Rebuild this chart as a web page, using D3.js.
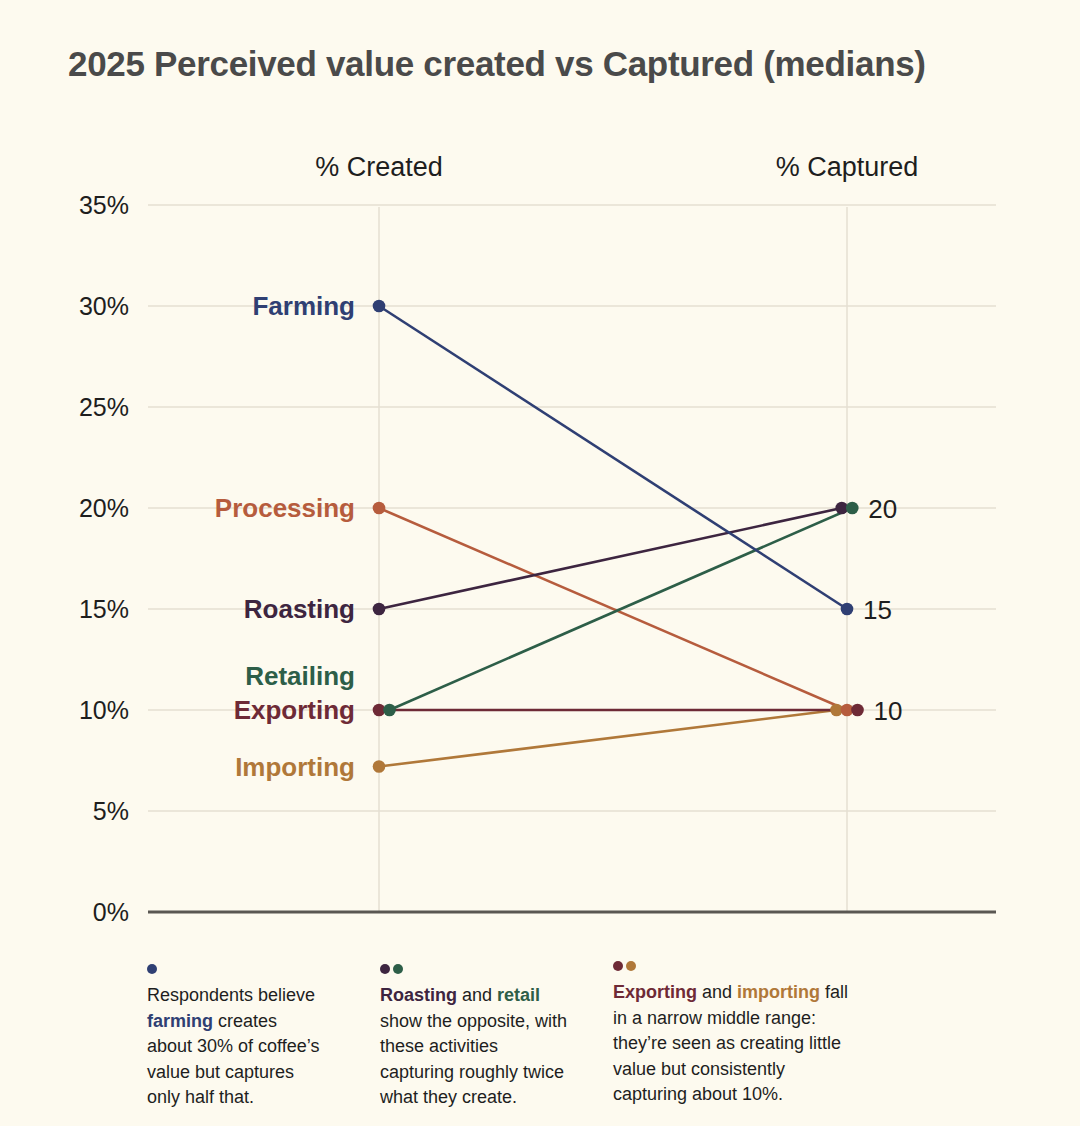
<!DOCTYPE html>
<html><head><meta charset="utf-8">
<script src="https://cdn.jsdelivr.net/npm/d3@7"></script>
<style>
html,body{margin:0;padding:0;background:#fdfaef;}
svg{display:block;font-family:"Liberation Sans",Arial,sans-serif;}
</style></head>
<body>
<svg id="chart" width="1080" height="1126"></svg>
<script>
const categories = ["Farming","Processing","Roasting","Retailing","Exporting","Importing"];
const created =    [30, 20, 15, 10, 10, 7.2];
const captured =   [15, 10, 20, 20, 10, 10];
const colors =     ["#2f3f73","#b65c3d","#3d2540","#2d5e48","#6e2a36","#b07839"];
const drawOrder =  ["Importing","Processing","Exporting","Roasting","Retailing","Farming"];
const yTicks = [0,5,10,15,20,25,30,35];
const columns = ["% Created","% Captured"];
const title = "2025 Perceived value created vs Captured (medians)";
const notes = [
  {dots:["Farming"], lines:[[["Respondents believe",null]],[["farming","Farming"],[" creates",null]],[["about 30% of coffee’s",null]],[["value but captures",null]],[["only half that.",null]]]},
  {dots:["Roasting","Retailing"], lines:[[["Roasting","Roasting"],[" and ",null],["retail","Retailing"]],[["show the opposite, with",null]],[["these activities",null]],[["capturing roughly twice",null]],[["what they create.",null]]]},
  {dots:["Exporting","Importing"], lines:[[["Exporting","Exporting"],[" and ",null],["importing","Importing"],[" fall",null]],[["in a narrow middle range:",null]],[["they’re seen as creating little",null]],[["value but consistently",null]],[["capturing about 10%.",null]]]}
];

const svg = d3.select("#chart");
const color = d3.scaleOrdinal(categories, colors);
const y = d3.scaleLinear([0,35],[912,205]);
const x = d3.scalePoint(columns,[379,847]);
const gridX0 = 148, gridX1 = 996;

// title
svg.append("text").attr("x",68).attr("y",76)
  .attr("font-size",35).attr("font-weight","bold").attr("fill","#4a4a4a")
  .attr("letter-spacing","0").attr("textLength",858).attr("lengthAdjust","spacing").text(title);

// gridlines + tick labels
const yAxis = svg.append("g");
yAxis.selectAll("line.grid").data(yTicks.filter(d=>d>0)).join("line")
  .attr("x1",gridX0).attr("x2",gridX1).attr("y1",d=>y(d)).attr("y2",d=>y(d))
  .attr("stroke","#e4dfd2").attr("stroke-width",1.5);
yAxis.selectAll("text").data(yTicks).join("text")
  .attr("x",129).attr("y",d=>y(d)).attr("dy","0.35em").attr("text-anchor","end")
  .attr("font-size",25).attr("fill","#1e1e1e").text(d=>d+"%");

// vertical column lines
svg.selectAll("line.col").data(columns).join("line").attr("class","col")
  .attr("x1",d=>x(d)).attr("x2",d=>x(d)).attr("y1",y(35)+2).attr("y2",y(0))
  .attr("stroke","#e4dfd2").attr("stroke-width",1.5);
svg.selectAll("text.colh").data(columns).join("text").attr("class","colh")
  .attr("x",d=>x(d)).attr("y",176).attr("text-anchor","middle")
  .attr("font-size",27).attr("fill","#1e1e1e").text(d=>d);

// baseline axis
svg.append("line").attr("x1",gridX0).attr("x2",gridX1).attr("y1",y(0)).attr("y2",y(0))
  .attr("stroke","#5a5752").attr("stroke-width",3);

// data records with dodge
const recs = drawOrder.map(c=>{const i=categories.indexOf(c);return {c, a:created[i], b:captured[i]};});
const dodge = 10.5;
recs.forEach(r=>{
  const gl = recs.filter(o=>o.a===r.a), il = gl.indexOf(r);
  r.xa = x(columns[0]) + il*dodge;
  r.li = il;
  const gr = recs.filter(o=>o.b===r.b), ir = gr.indexOf(r);
  r.xb = x(columns[1]) + (ir-(gr.length-1)/2)*dodge;
});

svg.append("g").selectAll("line").data(recs).join("line")
  .attr("x1",d=>d.xa).attr("y1",d=>y(d.a)).attr("x2",d=>d.xb).attr("y2",d=>y(d.b))
  .attr("stroke",d=>color(d.c)).attr("stroke-width",2.6);
const dots = svg.append("g");
recs.forEach(d=>{
  dots.append("circle").attr("cx",d.xa).attr("cy",y(d.a)).attr("r",6.3).attr("fill",color(d.c));
  dots.append("circle").attr("cx",d.xb).attr("cy",y(d.b)).attr("r",6.3).attr("fill",color(d.c));
});

// category labels
svg.append("g").selectAll("text").data(recs).join("text")
  .attr("x",355).attr("y",d=>y(d.a)-d.li*34).attr("dy","0.35em").attr("text-anchor","end")
  .attr("font-size",26).attr("font-weight","bold").attr("fill",d=>color(d.c)).text(d=>d.c);

// right value labels
const capVals = Array.from(new Set(captured));
svg.append("g").selectAll("text").data(capVals).join("text")
  .attr("x",v=>d3.max(recs.filter(r=>r.b===v),r=>r.xb)+16).attr("y",v=>y(v)).attr("dy","0.37em")
  .attr("font-size",26).attr("fill","#1e1e1e").text(v=>v);

// notes
const noteX = [147,380,613];
const noteY = [0,0,-3];
notes.forEach((n,k)=>{
  const g = svg.append("g").attr("transform",`translate(${noteX[k]},${noteY[k]})`);
  n.dots.forEach((c,j)=>g.append("circle").attr("cx",5+j*13).attr("cy",969).attr("r",5).attr("fill",color(c)));
  n.lines.forEach((ln,li)=>{
    const t = g.append("text").attr("x",0).attr("y",1001+li*25.5).attr("font-size",18).attr("fill","#1e1e1e");
    ln.forEach(([s,c])=>{const ts=t.append("tspan").text(s); if(c) ts.attr("fill",color(c)).attr("font-weight","bold");});
  });
});
</script>
</body></html>
